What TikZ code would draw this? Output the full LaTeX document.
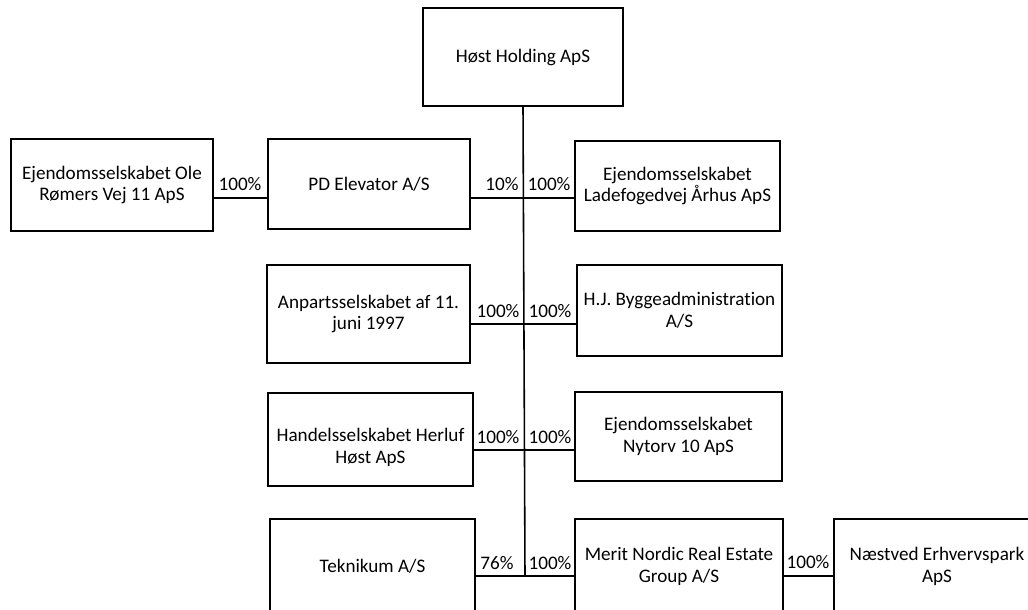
\documentclass[tikz,border=0pt]{standalone}
\usepackage{fontspec}
\setmainfont{Carlito}[Ligatures=NoCommon]

\begin{document}
\begin{tikzpicture}[x=0.02cm, y=-0.02cm,
    every node/.style={font=\fontsize{10.9}{12.5}\selectfont},
    empresa/.style={draw, line width=0.9pt, align=center, inner sep=2pt},
    pct/.style={inner sep=0pt},
    linea/.style={line width=0.9pt}]
            \useasboundingbox (0,0) rectangle (1028,609);
            \clip (0,0) rectangle (1028,609);

            % Empresas
            \node[empresa, minimum width=4cm, minimum height=1.96cm] (hoest) at (523,57) {Høst Holding ApS};
            \node[empresa, minimum width=4.04cm, minimum height=1.84cm] (ole) at (112,185) {Ejendomsselskabet Ole\\Rømers Vej 11 ApS};
            \node[empresa, minimum width=4.04cm, minimum height=1.8cm] (pd) at (369,184) {PD Elevator A/S};
            \node[empresa, minimum width=4.1cm, minimum height=1.8cm] (lad) at (677.5,186) {Ejendomsselskabet\\Ladefogedvej Århus ApS};
            \node[empresa, minimum width=4.06cm, minimum height=1.96cm] (anp) at (368.5,314) {Anpartsselskabet af 11.\\juni 1997};
            \node[empresa, minimum width=4.1cm, minimum height=1.82cm] (hj) at (679.5,310.5) {H.J. Byggeadministration\\A/S};
            \node[empresa, minimum width=4.1cm, minimum height=1.86cm] (han) at (370.5,439.5) {\mbox{}\\[4pt]Handelsselskabet Herluf\\Høst ApS};
            \node[empresa, minimum width=4.14cm, minimum height=1.78cm] (nyt) at (678.5,436.5) {Ejendomsselskabet\\Nytorv 10 ApS};
            \node[empresa, minimum width=4.1cm, minimum height=1.88cm] (tek) at (372.5,566) {Teknikum A/S};
            \node[empresa, minimum width=4.16cm, minimum height=1.88cm] (mer) at (679,566) {Merit Nordic Real Estate\\Group A/S};
            \node[empresa, minimum width=4.12cm, minimum height=1.88cm] (nae) at (937,566) {Næstved Erhvervspark\\ApS};

            % Uniones
            \coordinate (j1) at (525,198);
            \coordinate (j2) at (525,324);
            \coordinate (j3) at (525,450);
            \coordinate (j4) at (525,576);

            \draw[linea] (hoest.south) -- (j4);
            \draw[linea] (ole.east |- j1) -- (pd.west |- j1);
            \draw[linea] (pd.east |- j1) -- (lad.west |- j1);
            \draw[linea] (anp.east |- j2) -- (hj.west |- j2);
            \draw[linea] (han.east |- j3) -- (nyt.west |- j3);
            \draw[linea] (tek.east |- j4) -- (mer.west |- j4);
            \draw[linea] (mer.east |- j4) -- (nae.west |- j4);

            % Porcentajes
            \node[pct] (p1) at (240,184) {100\%};
            \node[pct] (p2) at (502,184) {10\%};
            \node[pct] (p3) at (549,184) {100\%};
            \node[pct] (p4) at (498,311) {100\%};
            \node[pct] (p5) at (550,311) {100\%};
            \node[pct] (p6) at (498,437) {100\%};
            \node[pct] (p7) at (550,437) {100\%};
            \node[pct] (p8) at (497,563) {76\%};
            \node[pct] (p9) at (550,563) {100\%};
            \node[pct] (p10) at (808,562) {100\%};
          \end{tikzpicture}
\end{document}
